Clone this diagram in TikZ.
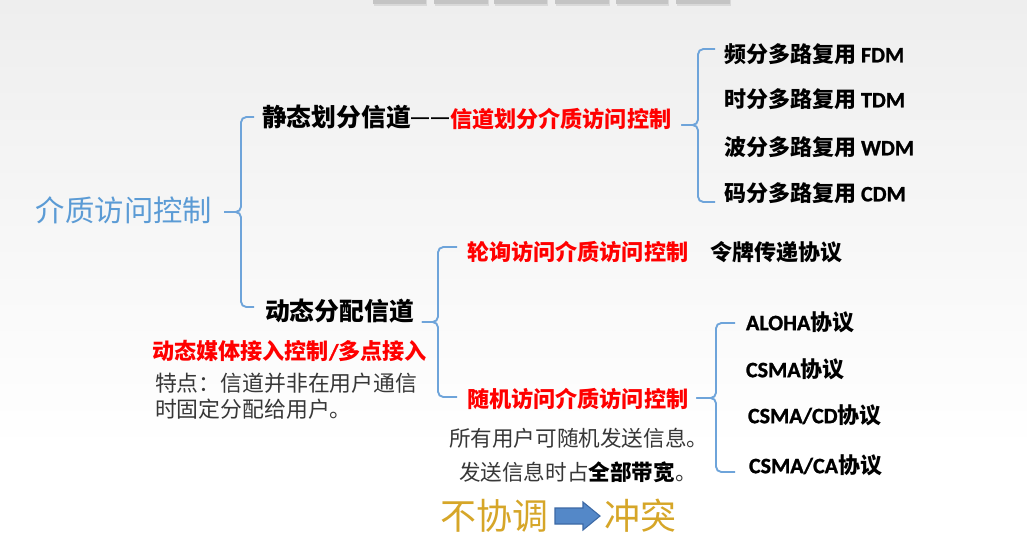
\documentclass[tikz,border=0pt]{standalone}
\usepackage{fontspec}
\setmainfont{Noto Sans CJK SC}
\newfontfamily\latb{Carlito-Bold.ttf}[FakeBold=1.2]
\newfontfamily\arialb{Liberation Sans Bold}
\usetikzlibrary{calc}
\definecolor{bgtop}{RGB}{238,238,238}
\definecolor{mblue}{RGB}{91,155,213}
\definecolor{brc}{RGB}{110,164,218}
\definecolor{mred}{RGB}{255,0,0}
\definecolor{dgray}{RGB}{55,55,55}
\definecolor{gold}{RGB}{214,166,40}
\definecolor{arrfill}{RGB}{84,136,200}
\definecolor{arrline}{RGB}{60,105,165}
\definecolor{tabgray}{RGB}{196,196,196}
\newcommand{\fs}[1]{\fontsize{#1pt}{#1pt}\selectfont}
\begin{document}
\begin{tikzpicture}[x=0.75pt,y=-0.75pt,
  txt/.style={anchor=west,inner sep=0pt,outer sep=0pt},
  bracestyle/.style={draw=brc,line width=1.4pt,rounded corners=4pt},
  itemtxt/.style={txt,font=\fs{16.5}\bfseries,text=black},
  redtxt/.style={txt,font=\fs{16.6}\bfseries,text=mred},
  graytxt/.style={txt,font=\fs{16.4},text=dgray},
  goldtxt/.style={txt,font=\fs{27},text=gold}]
\useasboundingbox (0,0) rectangle (1027,550);
\shade[top color=bgtop,bottom color=white] (0,0) rectangle (1027,450);
\fill[white] (0,450) rectangle (1027,550);
% top tabs
\foreach \a/\b in {373/426,434/488,494/547,555/609,616/668,676/730}{
  \fill[gray!30] (\a+1,0) rectangle (\b+1,6);
  \fill[tabgray] (\a,0) rectangle (\b,4);
}
% texts
\node[txt,font=\fs{22},text=mblue] (root) at (36,210) {介质访问控制};
\node[txt,font=\fs{18.6}\bfseries] (static) at (262,117) {静态划分信道};
\node[txt,font=\fs{13.5}] (dash) at (411,121) {{\arialb —\kern1.5pt—}};
\node[redtxt] (staticmac) at (450,119) {信道划分介质访问控制};
\node[itemtxt] (fdm) at (724,54) {频分多路复用 {\latb FDM}};
\node[itemtxt] (tdm) at (724,99) {时分多路复用 {\latb TDM}};
\node[itemtxt] (wdm) at (724,147) {波分多路复用 {\latb WDM}};
\node[itemtxt] (cdm) at (724,193) {码分多路复用 {\latb CDM}};
\node[txt,font=\fs{18.6}\bfseries] (dynamic) at (265,311) {动态分配信道};
\node[redtxt] (poll) at (467,252) {轮询访问介质访问控制};
\node[itemtxt] (token) at (710,252) {令牌传递协议};
\node[redtxt] (dynmac) at (152,351) {动态媒体接入控制{\latb/}多点接入};
\node[graytxt] (feat1) at (155,383) {特点：信道并非在用户通信};
\node[graytxt] (feat2) at (155,409) {时固定分配给用户。};
\node[redtxt] (random) at (467,399) {随机访问介质访问控制};
\node[graytxt,font=\fs{16.2}] (rand1) at (449,438) {所有用户可随机发送信息。};
\node[graytxt,font=\fs{16.2}] (rand2) at (459,472) {发送信息时占{\bfseries\color{black}全部带宽}。};
\node[itemtxt] (aloha) at (746,322) {{\latb ALOHA}协议};
\node[itemtxt] (csma) at (746,369) {{\latb CSMA}协议};
\node[itemtxt] (csmacd) at (748,415) {{\latb CSMA/CD}协议};
\node[itemtxt] (csmaca) at (749,465) {{\latb CSMA/CA}协议};
\node[goldtxt] (nocoord) at (440,516) {不协调};
\node[goldtxt] (collide) at (604,516) {冲突};
% braces
\coordinate (t1) at ($(root.east)+(12,2)$);
\draw[bracestyle] ($(static.west)+(-8,0)$) -- (241,117) -- (241,212) -- (t1);
\draw[bracestyle] ($(dynamic.west)+(-11,-4)$) -- (241,307) -- (241,212) -- (t1);
\coordinate (t2) at ($(staticmac.east)+(10,6)$);
\draw[bracestyle] (715,49) -- (698,49) -- (698,125) -- (t2);
\draw[bracestyle] (715,202) -- (698,202) -- (698,125) -- (t2);
\coordinate (t3) at ($(dynamic.east)+(8,11)$);
\draw[bracestyle] ($(poll.west)+(-10,-5)$) -- (438,247) -- (438,322) -- (t3);
\draw[bracestyle] ($(random.west)+(-10,-2)$) -- (438,397) -- (438,322) -- (t3);
\coordinate (t4) at ($(random.east)+(8,-1)$);
\draw[bracestyle] (735,323) -- (716,323) -- (716,398) -- (t4);
\draw[bracestyle] (735,472) -- (716,472) -- (716,398) -- (t4);
% block arrow
\draw[fill=arrfill,draw=arrline,line width=0.8pt]
  ($(nocoord.east)+(7,-8)$) -- ++(28,0) -- ++(0,-6) -- ++(17,14) -- ++(-17,14) -- ++(0,-6) -- ++(-28,0) -- cycle;
\end{tikzpicture}
\end{document}
